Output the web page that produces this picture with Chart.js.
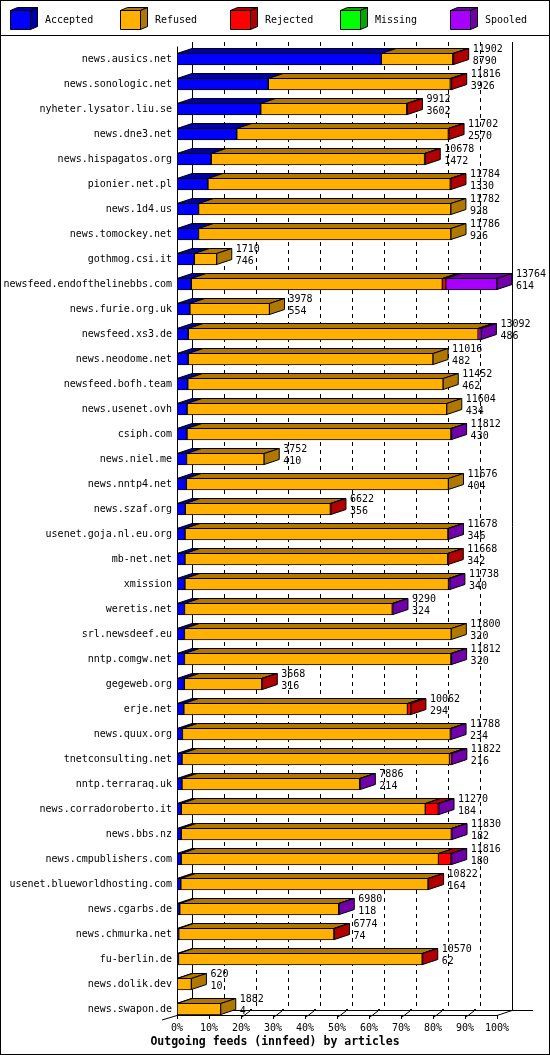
<!DOCTYPE html>
<html lang="en">
<head>
<meta charset="UTF-8">
<title>Outgoing feeds (innfeed) by articles</title>
<script src="https://cdn.jsdelivr.net/npm/chart.js"></script>
<style>
  body { margin: 0; background: #fff; }
  #wrap { width: 550px; height: 1055px; }
</style>
</head>
<body>
<div id="wrap"><canvas id="feeds" width="550" height="1055"></canvas></div>
<script>
// peers, top to bottom
const hosts = [
  'news.ausics.net', 'news.sonologic.net', 'nyheter.lysator.liu.se', 'news.dne3.net',
  'news.hispagatos.org', 'pionier.net.pl', 'news.1d4.us', 'news.tomockey.net',
  'gothmog.csi.it', 'newsfeed.endofthelinebbs.com', 'news.furie.org.uk', 'newsfeed.xs3.de',
  'news.neodome.net', 'newsfeed.bofh.team', 'news.usenet.ovh', 'csiph.com',
  'news.niel.me', 'news.nntp4.net', 'news.szaf.org', 'usenet.goja.nl.eu.org',
  'mb-net.net', 'xmission', 'weretis.net', 'srl.newsdeef.eu',
  'nntp.comgw.net', 'gegeweb.org', 'erje.net', 'news.quux.org',
  'tnetconsulting.net', 'nntp.terraraq.uk', 'news.corradoroberto.it', 'news.bbs.nz',
  'news.cmpublishers.com', 'usenet.blueworldhosting.com', 'news.cgarbs.de', 'news.chmurka.net',
  'fu-berlin.de', 'news.dolik.dev', 'news.swapon.de'
];

// numbers printed next to each bar (offered / accepted)
const totals = [11902, 11816, 9912, 11702, 10678, 11784, 11782, 11786, 1710, 13764, 3978, 13092,
  11016, 11452, 11604, 11812, 3752, 11676, 6622, 11678, 11668, 11738, 9290, 11800, 11812, 3668,
  10062, 11788, 11822, 7886, 11270, 11830, 11816, 10822, 6980, 6774, 10570, 620, 1882];

const accepted = [8790, 3926, 3602, 2570, 1472, 1330, 928, 926, 746, 614, 554, 486,
  482, 462, 434, 430, 410, 404, 356, 346, 342, 340, 324, 320, 320, 316,
  294, 234, 216, 214, 184, 182, 180, 164, 118, 74, 62, 10, 4];

const refused = [3072, 7830, 6280, 9102, 9176, 10424, 10854, 10860, 964, 10800, 3424, 12466,
  10534, 10990, 11170, 11352, 3342, 11272, 6241, 11307, 11301, 11338, 8936, 11480, 11462, 3332,
  9618, 11524, 11506, 7642, 10496, 11618, 11066, 10633, 6837, 6675, 10483, 610, 1878];

const rejected = [40, 60, 30, 30, 30, 30, 0, 0, 0, 150, 0, 20,
  0, 0, 0, 0, 0, 0, 25, 0, 25, 0, 0, 0, 0, 20,
  150, 0, 80, 0, 560, 0, 540, 25, 0, 25, 25, 0, 0];

const missing = [0, 0, 0, 0, 0, 0, 0, 0, 0, 0, 0, 0,
  0, 0, 0, 0, 0, 0, 0, 0, 0, 0, 0, 0, 0, 0,
  0, 0, 0, 0, 0, 0, 0, 0, 0, 0, 0, 0, 0];

const spooled = [0, 0, 0, 0, 0, 0, 0, 0, 0, 2200, 0, 120,
  0, 0, 0, 30, 0, 0, 0, 25, 0, 60, 30, 0, 30, 0,
  0, 30, 20, 30, 30, 30, 30, 0, 25, 0, 0, 0, 0];

const seriesNames = ['Accepted', 'Refused', 'Rejected', 'Missing', 'Spooled'];
const pctTicks = ['0%', '10%', '20%', '30%', '40%', '50%', '60%', '70%', '80%', '90%', '100%'];

const frontColors = ['#0000ff', '#ffb000', '#ff0000', '#00ff00', '#a800ff'];
const darkColors  = ['#0000a8', '#b07800', '#b00000', '#00a800', '#7000a8'];

const MONO = '"DejaVu Sans Mono", "Liberation Mono", monospace';
const DX = 15, DY = 5;   // depth of the 3d effect
const maxTotal = Math.max(...totals);

function poly(ctx, pts, fill) {
  ctx.beginPath();
  ctx.moveTo(pts[0][0], pts[0][1]);
  for (let i = 1; i < pts.length; i++) ctx.lineTo(pts[i][0], pts[i][1]);
  ctx.closePath();
  ctx.fillStyle = fill;
  ctx.fill();
  ctx.stroke();
}

function line(ctx, x1, y1, x2, y2) {
  ctx.beginPath();
  ctx.moveTo(x1, y1);
  ctx.lineTo(x2, y2);
  ctx.stroke();
}

// back wall, dashed grid, floor and percent labels
const wallPlugin = {
  id: 'wall',
  beforeDatasetsDraw(chart) {
    const ctx = chart.ctx;
    const xs = chart.scales.x;
    const area = chart.chartArea;
    const floorY = Math.round(area.bottom - 6.5);
    const backY = floorY - DY;
    const wallTop = 42;
    const px = v => Math.round(xs.getPixelForValue(v));
    ctx.save();
    ctx.strokeStyle = '#000';
    ctx.lineWidth = 1;

    // dashed grid on the back wall
    ctx.setLineDash([4, 4]);
    for (let k = 1; k < 10; k++) {
      const x = px(maxTotal * k / 10) + DX + 0.5;
      line(ctx, x, wallTop, x, backY);
    }
    ctx.setLineDash([]);

    const x0 = px(0), x100 = px(maxTotal);
    line(ctx, x0 + DX + 0.5, wallTop, x0 + DX + 0.5, backY);
    line(ctx, x100 + DX + 0.5, wallTop, x100 + DX + 0.5, backY + 0.5);
    line(ctx, x0 + 0.5, area.top, x0 + 0.5, floorY);

    // floor
    line(ctx, x0, floorY + 0.5, x100 + 1, floorY + 0.5);
    line(ctx, x0 + DX, backY + 0.5, x100 + DX + 21, backY + 0.5);
    line(ctx, x0 - DX, floorY + 5, x0, floorY + 0.5);
    line(ctx, x100, floorY + 0.5, x100 + DX, backY + 0.5);

    ctx.font = '10px ' + MONO;
    ctx.fillStyle = '#000';
    ctx.textAlign = 'center';
    ctx.textBaseline = 'middle';
    pctTicks.forEach((t, k) => {
      const x = px(maxTotal * k / 10);
      line(ctx, x + 0.5, floorY, x + 0.5, floorY + 4);
      if (k >= 2 && k <= 9) {
        line(ctx, x + 1, floorY + 2, x + 9, backY + 1);
        ctx.fillRect(x + 9, backY - 1, 2, 2);
      }
      ctx.fillText(t, x, floorY + 13);
    });
    ctx.restore();
  }
};

// top and side faces of the bars, plus the numbers
const boxPlugin = {
  id: 'boxes',
  afterDatasetsDraw(chart) {
    const ctx = chart.ctx;
    ctx.save();
    ctx.strokeStyle = '#000';
    ctx.lineWidth = 1;
    hosts.forEach((h, i) => {
      let last = null;
      chart.data.datasets.forEach((ds, d) => {
        if (!ds.data[i]) return;
        const el = chart.getDatasetMeta(d).data[i];
        const p = el.getProps(['x', 'y', 'base', 'height'], true);
        const top = Math.round(p.y - p.height / 2) + 0.5;
        const l = p.base, r = p.x;
        poly(ctx, [[l, top], [r, top], [r + DX, top - DY], [l + DX, top - DY]], darkColors[d]);
        last = { d, r, top, bottom: top + p.height - 1 };
      });
      if (!last) return;
      const r = last.r;
      poly(ctx, [[r, last.top], [r + DX, last.top - DY], [r + DX, last.bottom - DY], [r, last.bottom]],
        darkColors[last.d]);

      const cy = chart.getDatasetMeta(0).data[i].y;
      ctx.fillStyle = '#000';
      ctx.font = '10px ' + MONO;
      ctx.textAlign = 'left';
      ctx.textBaseline = 'middle';
      ctx.fillText(String(totals[i]), r + DX + 4, cy - 9.5);
      ctx.fillText(String(accepted[i]), r + DX + 4, cy + 2.5);
    });
    ctx.restore();
  }
};

// legend strip, title and frame
const framePlugin = {
  id: 'frame',
  afterDraw(chart) {
    const ctx = chart.ctx;
    const W = chart.width, H = chart.height;
    ctx.save();
    ctx.strokeStyle = '#000';
    ctx.lineWidth = 1;
    ctx.font = '10px ' + MONO;
    ctx.textBaseline = 'middle';
    ctx.textAlign = 'left';
    seriesNames.forEach((name, d) => {
      const x = 10.5 + d * 110, y = 10.5;
      poly(ctx, [[x, y], [x + 20, y], [x + 20, y + 19], [x, y + 19]], frontColors[d]);
      poly(ctx, [[x, y], [x + 20, y], [x + 27, y - 3], [x + 7, y - 3]], darkColors[d]);
      poly(ctx, [[x + 20, y], [x + 27, y - 3], [x + 27, y + 16], [x + 20, y + 19]], darkColors[d]);
      ctx.fillStyle = '#000';
      ctx.fillText(name, x + 34.5, 20);
    });
    line(ctx, 0, 35.5, W, 35.5);
    ctx.strokeRect(0.5, 0.5, W - 1, H - 1);

    ctx.font = 'bold 11.5px ' + MONO;
    ctx.textAlign = 'center';
    ctx.fillText('Outgoing feeds (innfeed) by articles', W / 2, 1042);
    ctx.restore();
  }
};

const values = [accepted, refused, rejected, missing, spooled];

new Chart(document.getElementById('feeds'), {
  type: 'bar',
  data: {
    labels: hosts,
    datasets: seriesNames.map((name, d) => ({
      label: name,
      data: values[d],
      backgroundColor: frontColors[d],
      borderColor: '#000',
      borderWidth: 1,
      borderSkipped: false,
      barThickness: 12
    }))
  },
  options: {
    indexAxis: 'y',
    responsive: false,
    animation: false,
    layout: { padding: { top: 46.5, bottom: 33.5, left: 0, right: 53 } },
    plugins: {
      legend: { display: false },
      title: { display: false },
      tooltip: { enabled: false }
    },
    scales: {
      x: {
        stacked: true,
        min: 0,
        max: maxTotal,
        display: false
      },
      y: {
        stacked: true,
        grid: { display: false, drawTicks: false },
        border: { display: false },
        ticks: {
          color: '#000',
          padding: 5,
          font: { family: MONO, size: 10 }
        },
        afterFit(scale) { scale.width = 177; }
      }
    }
  },
  plugins: [wallPlugin, boxPlugin, framePlugin]
});
</script>
</body>
</html>
